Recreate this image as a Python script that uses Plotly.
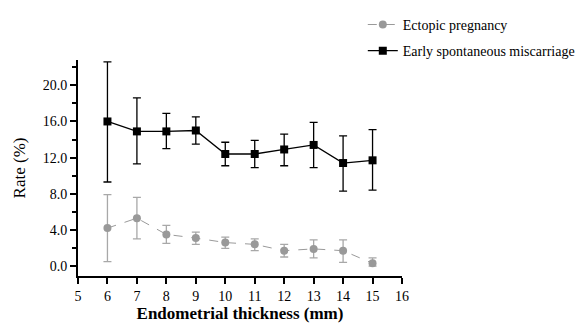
import plotly.graph_objects as go

thickness = [6, 7, 8, 9, 10, 11, 12, 13, 14, 15]

ectopic = [4.2, 5.3, 3.5, 3.1, 2.6, 2.4, 1.7, 1.9, 1.7, 0.3]
ectopic_upper = [7.9, 7.6, 4.5, 3.75, 3.2, 3.0, 2.4, 2.9, 2.9, 0.9]
ectopic_lower = [0.5, 3.0, 2.5, 2.4, 1.95, 1.7, 1.0, 0.9, 0.4, 0.0]

miscarriage = [16.0, 14.9, 14.9, 15.0, 12.4, 12.4, 12.9, 13.4, 11.4, 11.7]
miscarriage_upper = [22.6, 18.6, 16.9, 16.5, 13.7, 13.9, 14.6, 15.9, 14.4, 15.1]
miscarriage_lower = [9.3, 11.3, 13.0, 13.5, 11.1, 10.9, 11.1, 10.9, 8.3, 8.4]

x_ticks = list(range(5, 17))
y_ticks = [0, 4, 8, 12, 16, 20]

FONT = "Liberation Serif, Times New Roman, serif"

def err(vals, up, lo):
    return ([u - v for u, v in zip(up, vals)], [v - l for v, l in zip(vals, lo)])

e_plus, e_minus = err(ectopic, ectopic_upper, ectopic_lower)
m_plus, m_minus = err(miscarriage, miscarriage_upper, miscarriage_lower)

fig = go.Figure()
fig.add_trace(go.Scatter(
    x=thickness, y=ectopic, name="Ectopic pregnancy", mode="lines+markers",
    legendgroup="a",
    line=dict(color="#9a9a9a", width=1, dash="dash"),
    marker=dict(symbol="circle", size=8, color="#999999"),
    error_y=dict(type="data", array=e_plus, arrayminus=e_minus, color="#a8a8a8",
                 thickness=1.3, width=4),
))
fig.add_trace(go.Scatter(
    x=thickness, y=miscarriage, name="Early spontaneous miscarriage", mode="lines+markers",
    legendgroup="b",
    line=dict(color="#000000", width=1.3),
    marker=dict(symbol="square", size=8, color="#000000"),
    error_y=dict(type="data", array=m_plus, arrayminus=m_minus, color="#000000",
                 thickness=1.3, width=4),
))

fig.update_layout(
    width=578, height=330,
    margin=dict(l=78, r=176, t=60, b=54, autoexpand=False),
    paper_bgcolor="white", plot_bgcolor="white",
    font=dict(family=FONT, color="#000000", size=14),
    showlegend=True,
    legend=dict(x=0.879, xref="paper", y=0.973, yref="container", xanchor="left", yanchor="top",
                font=dict(family=FONT, size=14, color="#000000"), bgcolor="rgba(0,0,0,0)",
                traceorder="grouped", tracegroupgap=5),
    xaxis=dict(range=[5, 16], tickvals=x_ticks, ticktext=[str(v) for v in x_ticks],
               showline=True, linecolor="black", linewidth=2,
               ticks="outside", ticklen=6, tickwidth=2, tickcolor="black",
               showgrid=False, zeroline=False,
               tickfont=dict(family=FONT, size=14, color="#000000"),
               title=dict(text="<b>Endometrial thickness (mm)</b>",
                          font=dict(family=FONT, size=17), standoff=4)),
    yaxis=dict(range=[-1.1, 22.8], tickvals=y_ticks, ticktext=[f"{v:.1f}" for v in y_ticks],
               showline=True, linecolor="black", linewidth=2,
               ticks="outside", ticklen=6, tickwidth=2, tickcolor="black",
               minor=dict(tickvals=[2, 6, 10, 14, 18, 22], ticks="outside", ticklen=4,
                          tickwidth=2, tickcolor="black"),
               showgrid=False, zeroline=False,
               tickfont=dict(family=FONT, size=14, color="#000000"),
               title=dict(text="Rate (%)", font=dict(family=FONT, size=17), standoff=13)),
)

fig.write_html("out.html", config={"displayModeBar": False},
               post_script="document.body.style.margin='0';")
